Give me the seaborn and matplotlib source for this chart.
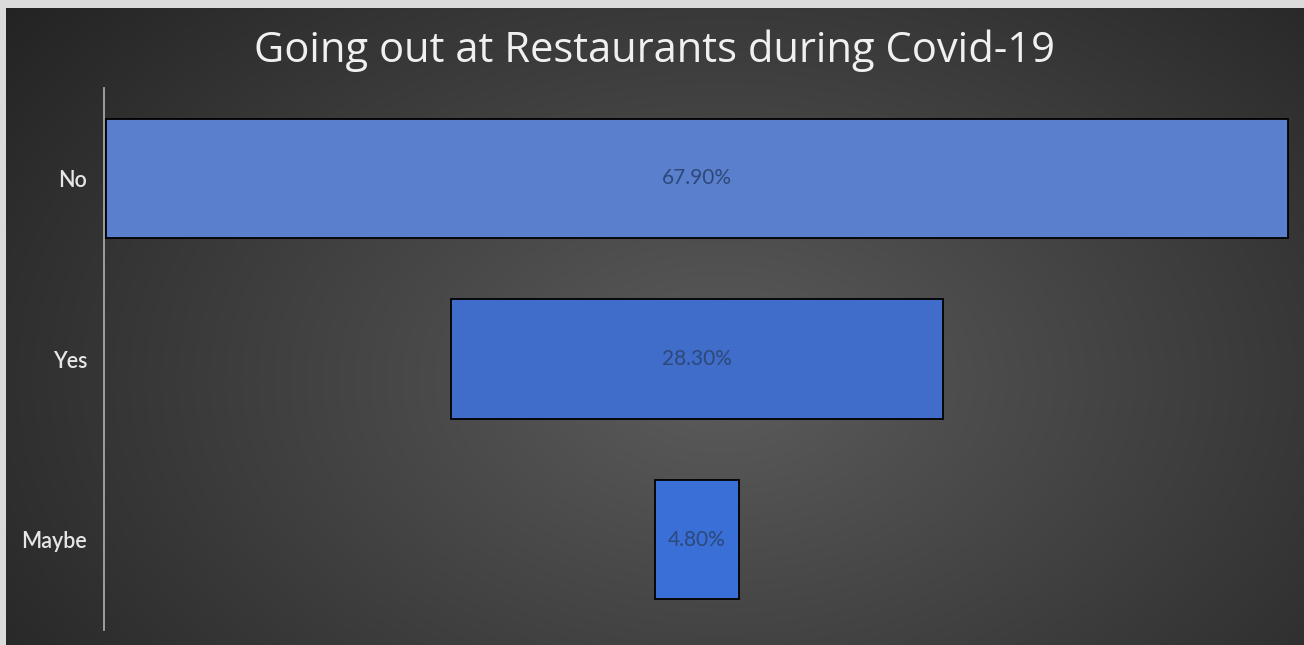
import numpy as np
import pandas as pd
import matplotlib
matplotlib.use("Agg")
import matplotlib.pyplot as plt
import seaborn as sns

categories = ["No", "Yes", "Maybe"]
values = [67.9, 28.3, 4.8]
labels = ["67.90%", "28.30%", "4.80%"]
bar_colors = ["#5a7fcd", "#3f6dc9", "#3a6fd8"]

sns.set_theme(style="dark")
plt.rcParams['font.family'] = ['Lato', 'DejaVu Sans']

W, H = 1304, 645
fig = plt.figure(figsize=(W / 100, H / 100), dpi=100)

# background: light frame + radial dark gradient
bg = fig.add_axes([0, 0, 1, 1])
bg.set_axis_off()
yy, xx = np.mgrid[0:H, 0:W]
d = np.sqrt(((xx - 720) / 900.0) ** 2 + ((yy - 380) / 600.0) ** 2)
g = np.clip(0.36 - 0.22 * d, 0.14, 0.40)
img = np.dstack([g, g, g])
img[:8, :, :] = 0.86
img[:, :6, :] = 0.86
bg.imshow(img, extent=[0, W, H, 0], aspect="auto", interpolation="bilinear")
bg.set_xlim(0, W)
bg.set_ylim(H, 0)

# main axes: px 104..1290 horizontally, 88..630 vertically
ax = fig.add_axes([104 / W, 1 - 630 / H, (1290 - 104) / W, (630 - 88) / H])
ax.patch.set_alpha(0)

df = pd.DataFrame({"cat": categories, "val": values})
sns.barplot(data=df, x="val", y="cat", hue="cat", palette=bar_colors, legend=False,
            orient="h", width=0.66, edgecolor="black", linewidth=1.3, ax=ax, saturation=1)

for p, v, lab in zip(ax.patches, values, labels):
    p.set_x(-v / 2)
    p.set_width(v)
    ax.text(0, p.get_y() + p.get_height() / 2, lab, ha="center", va="center",
            fontsize=15, color="#2d4879")

half = 34.06
ax.set_xlim(-half, half)
ax.set_ylim(2.5, -0.5)
ax.set_xticks([])
ax.set_xlabel("")
ax.set_ylabel("")
ax.tick_params(axis="y", length=0, pad=12, labelsize=15.5, colors="#e6e6e6")
for t in ax.get_yticklabels():
    t.set_fontweight("semibold")
for s in ["top", "right", "bottom"]:
    ax.spines[s].set_visible(False)
ax.spines["left"].set_color("#a6a6a6")
ax.spines["left"].set_linewidth(1.3)

fig.text(655 / W, 1 - 51 / H, "Going out at Restaurants during Covid-19",
         ha="center", va="center", fontsize=30, color="#f0f0f0",
         family=["Open Sans", "DejaVu Sans"])

fig.savefig("out.png", dpi=100)
